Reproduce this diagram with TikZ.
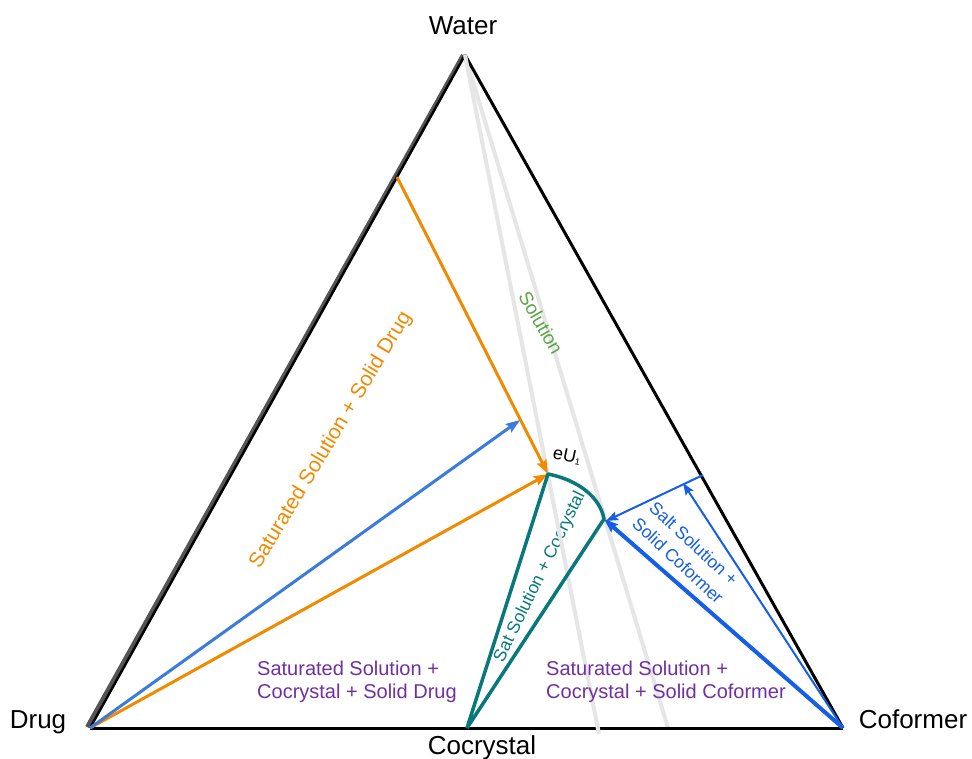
\documentclass[tikz,border=0pt]{standalone}
\usepackage{fontspec}
\setmainfont{Liberation Sans}
\usetikzlibrary{arrows.meta}
\definecolor{orng}{HTML}{F08A00}
\definecolor{lblue}{HTML}{3B7BDB}
\definecolor{dblue}{HTML}{145FE6}
\definecolor{tealc}{HTML}{08787A}
\definecolor{purp}{HTML}{7030A0}
\definecolor{grn}{HTML}{5AA544}
\definecolor{lgray}{HTML}{E6E6E6}
\definecolor{dgray}{HTML}{555555}
\begin{document}
\begin{tikzpicture}[x=1pt,y=-1pt,
  vertexlabel/.style={font=\fontsize{26}{30}\selectfont, inner sep=0pt, anchor=base},
  regionlabel/.style={font=\fontsize{20}{23}\selectfont, text=purp, inner sep=0pt, align=left, anchor=west},
  edgeline/.style={line width=3pt, black},
  guideline/.style={line width=4pt, lgray},
  tiplarge/.style={-{Stealth[length=14pt,width=10pt,inset=2pt]}},
  tipsmall/.style={-{Stealth[length=12pt,width=9pt,inset=2pt]}},
  tieline/.style={line width=3.5pt, tealc}
]
\useasboundingbox[fill=white] (0,0) rectangle (972,758);
% corners and points
\coordinate (W) at (465,55);
\coordinate (D) at (90,728);
\coordinate (C) at (843,728);
\coordinate (X) at (467,728);
\coordinate (E) at (548,474);
\coordinate (P) at (604,519);
\coordinate (L) at (397,177);
\coordinate (B) at (520,420);
\coordinate (R) at (703,475);
\coordinate (Q) at (683,483);
\coordinate (G1) at (599,734);
\coordinate (G2) at (668,728);

% labels of vertices
\node[vertexlabel] (lw) at (463,34) {Water};
\node[vertexlabel] (ld) at (38,728) {Drug};
\node[vertexlabel] (lc) at (913,728) {Coformer};
\node[vertexlabel] (lx) at (482,754) {Cocrystal};

% teal label (under the guide lines)
\node[font=\fontsize{17.5}{20}\selectfont, text=tealc, rotate=64, inner sep=0pt] (tsc) at (540,577) {Sat Solution + Cocrystal};

% triangle
\draw[line width=4pt, dgray] (463,55) -- (87,727);
\draw[guideline] (W) -- (G2);
\draw[edgeline] (D) -- (C);
\draw[edgeline] (W) -- (C);
\draw[line width=2.5pt, black] (W) -- (D);
\draw[guideline] (W) -- (G1);

% region labels
\node[font=\fontsize{21}{24}\selectfont, text=orng, rotate=59, inner sep=0pt] (ts) at (331,440) {Saturated Solution + Solid Drug};
\node[font=\fontsize{19}{22}\selectfont, text=grn, rotate=-60, inner sep=0pt] (tsol) at (541,323) {Solution};
\node[font=\fontsize{17.5}{23}\selectfont, text=dblue, rotate=-43, inner sep=0pt, align=center] (tsalt) at (686,552) {Salt Solution +\\Solid Coformer};
\node[regionlabel] (tdrug) at (257,682) {Saturated Solution +\\Cocrystal + Solid Drug};
\node[regionlabel] (tcof) at (546,682) {Saturated Solution +\\Cocrystal + Solid Coformer};
\node[font=\fontsize{18}{20}\selectfont, rotate=-12, inner sep=0pt] (teu) at (567,456) {eU\raisebox{-2pt}{\fontsize{9}{9}\selectfont 1}};

% orange tie lines
\draw[orng, line width=3pt, tiplarge] (L) -- (E);
\draw[orng, line width=3pt, tiplarge] (D) -- (E);
% light blue
\draw[lblue, line width=3pt, tiplarge] (D) -- (B);

% teal region
\draw[tieline, line join=round] (X) -- (E) .. controls (578,480) and (600,497) .. (P) -- (X);

% dark blue
\draw[dblue, line width=4pt, tiplarge] (C) -- (P);
\draw[dblue, line width=2pt, tipsmall] (C) -- (Q);
\draw[dblue, line width=2pt, tipsmall] (R) -- (606,521);
\end{tikzpicture}
\end{document}
